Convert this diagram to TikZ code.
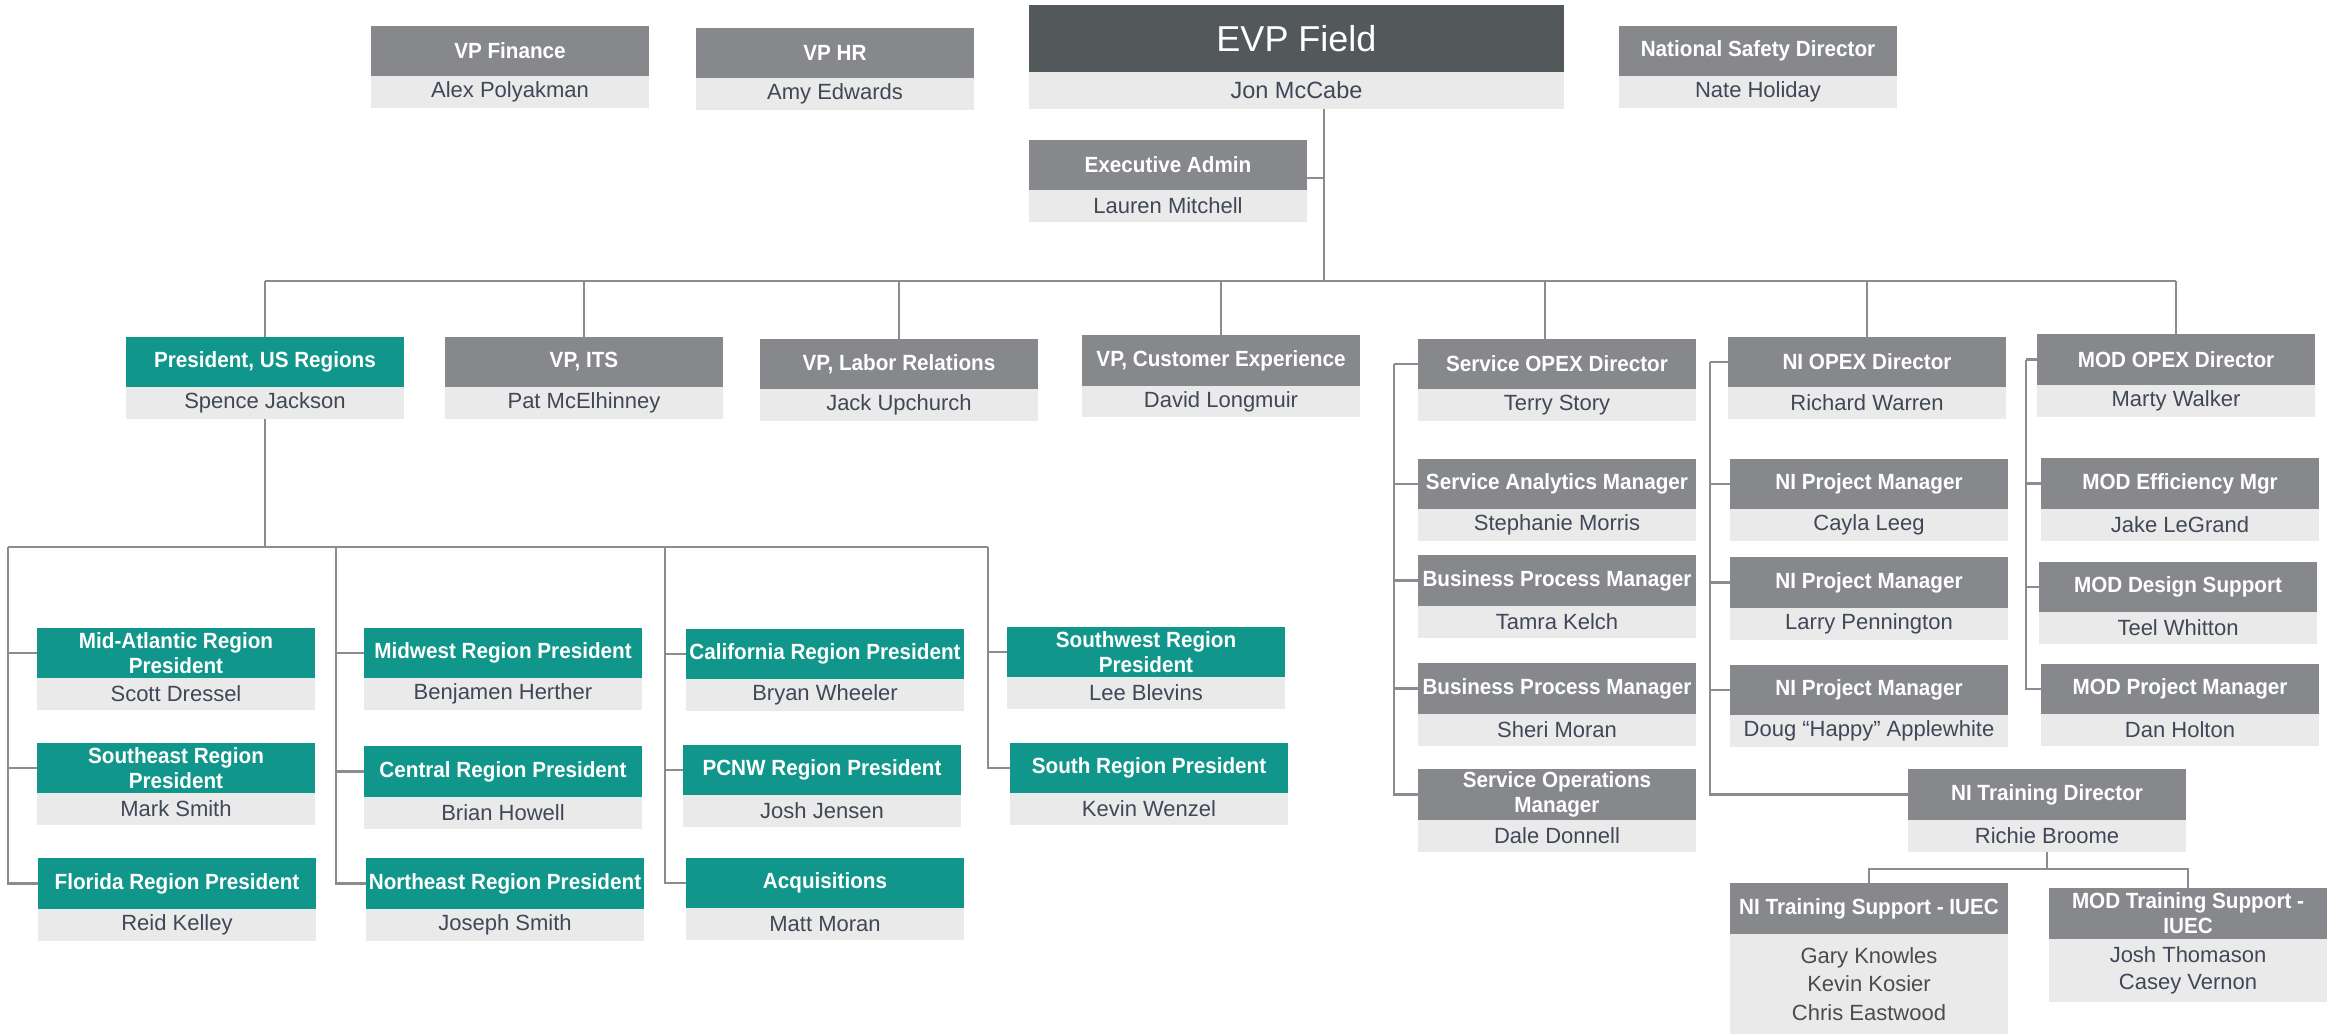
\documentclass[tikz,border=0pt]{standalone}
\usepackage{fontspec}
\setmainfont{Liberation Sans}
\newfontfamily\hdrfont{Liberation Sans}[FakeStretch=0.94]
\usetikzlibrary{calc,backgrounds}

\definecolor{hdrteal}{HTML}{10968A}
\definecolor{hdrgray}{HTML}{86888C}
\definecolor{hdrdark}{HTML}{53585B}
\definecolor{namebg}{HTML}{EAEAEA}
\definecolor{nametext}{HTML}{404757}
\definecolor{linegray}{HTML}{8A8C90}

\tikzset{
  hdr/.style={inner sep=0pt, outer sep=0pt, text=white, align=center,
    font=\hdrfont\bfseries\fontsize{22}{25}\selectfont},
  nmbox/.style={inner sep=0pt, outer sep=0pt, fill=namebg, text=nametext,
    align=center, font=\fontsize{22}{27}\selectfont},
  link/.style={draw=linegray, line width=2.2pt},
  tealhdr/.style={fill=hdrteal},
  grayhdr/.style={fill=hdrgray},
}

% #1 name, #2 left, #3 top, #4 width, #5 header height, #6 name height,
% #7 header style, #8 title, #9 person
\newcommand\orgbox[9]{%
  \node[hdr,#7,minimum width=#4pt,minimum height=#5pt,anchor=north west]
    (#1) at (#2,#3) {#8};
  \node[nmbox,minimum width=#4pt,minimum height=#6pt,anchor=north west]
    (#1n) at (#1.south west) {#9};
}

\begin{document}
\begin{tikzpicture}[x=1pt,y=-1pt]
\begin{scope}[on background layer]
  \fill[white] (0,0) rectangle (2336,1033);
\end{scope}
\useasboundingbox (0,0) rectangle (2336,1033);

% ---- top level ----
\orgbox{fin}{371}{26}{278}{50}{32}{grayhdr}{VP Finance}{Alex Polyakman}
\orgbox{hr}{696}{28}{278}{50}{32}{grayhdr}{VP HR}{Amy Edwards}
\node[hdr,fill=hdrdark,minimum width=535pt,minimum height=67pt,anchor=north west,
      font=\fontsize{36}{40}\selectfont] (evp) at (1029,5) {EVP Field};
\node[nmbox,minimum width=535pt,minimum height=37pt,anchor=north west,
      font=\fontsize{23.5}{27}\selectfont] (evpn) at (evp.south west) {Jon McCabe};
\orgbox{nsd}{1619}{26}{278}{50}{32}{grayhdr}{National Safety Director}{Nate Holiday}
\orgbox{ea}{1029}{140}{278}{50}{32}{grayhdr}{Executive Admin}{Lauren Mitchell}

% ---- direct reports ----
\orgbox{pus}{126}{337}{278}{50}{32}{tealhdr}{President, US Regions}{Spence Jackson}
\orgbox{its}{445}{337}{278}{50}{32}{grayhdr}{VP, ITS}{Pat McElhinney}
\orgbox{lab}{760}{339}{278}{50}{32}{grayhdr}{VP, Labor Relations}{Jack Upchurch}
\orgbox{cx}{1082}{335}{278}{51}{31}{grayhdr}{VP, Customer Experience}{David Longmuir}
\orgbox{sopex}{1418}{339}{278}{50}{32}{grayhdr}{Service OPEX Director}{Terry Story}
\orgbox{niopex}{1728}{337}{278}{50}{32}{grayhdr}{NI OPEX Director}{Richard Warren}
\orgbox{modopex}{2037}{334}{278}{51}{32}{grayhdr}{MOD OPEX Director}{Marty Walker}

% ---- service OPEX team ----
\orgbox{sam}{1418}{459}{278}{50}{32}{grayhdr}{Service Analytics Manager}{Stephanie Morris}
\orgbox{bpma}{1418}{555}{278}{51}{32}{grayhdr}{Business Process Manager}{Tamra Kelch}
\orgbox{bpmb}{1418}{663}{278}{51}{32}{grayhdr}{Business Process Manager}{Sheri Moran}
\orgbox{som}{1418}{769}{278}{51}{32}{grayhdr}{Service Operations\\Manager}{Dale Donnell}

% ---- NI OPEX team ----
\orgbox{nipma}{1730}{459}{278}{50}{32}{grayhdr}{NI Project Manager}{Cayla Leeg}
\orgbox{nipmb}{1730}{557}{278}{51}{32}{grayhdr}{NI Project Manager}{Larry Pennington}
\orgbox{nipmc}{1730}{665}{278}{50}{32}{grayhdr}{NI Project Manager}{Doug “Happy” Applewhite}
\orgbox{nitd}{1908}{769}{278}{51}{32}{grayhdr}{NI Training Director}{Richie Broome}

% ---- MOD OPEX team ----
\orgbox{modeff}{2041}{458}{278}{51}{32}{grayhdr}{MOD Efficiency Mgr}{Jake LeGrand}
\orgbox{modds}{2039}{562}{278}{50}{32}{grayhdr}{MOD Design Support}{Teel Whitton}
\orgbox{modpm}{2041}{664}{278}{50}{32}{grayhdr}{MOD Project Manager}{Dan Holton}

% ---- training support ----
\node[hdr,fill=hdrgray,minimum width=278pt,minimum height=51pt,anchor=north west]
  (nits) at (1730,883) {NI Training Support - IUEC};
\node[nmbox,minimum width=278pt,minimum height=100pt,anchor=north west,
      text=black!70,font=\fontsize{22}{28.7}\selectfont]
  (nitsn) at (nits.south west) {Gary Knowles\\Kevin Kosier\\Chris Eastwood};
\node[hdr,fill=hdrgray,minimum width=278pt,minimum height=51pt,anchor=north west]
  (mots) at (2049,888) {MOD Training Support -\\IUEC};
\node[nmbox,minimum width=278pt,minimum height=63pt,anchor=north west,
      font=\fontsize{22}{26.5}\selectfont]
  (motsn) at (mots.south west) {Josh Thomason\\Casey Vernon};

% ---- US regions ----
\orgbox{midatl}{37}{628}{278}{50}{32}{tealhdr}{Mid-Atlantic Region\\President}{Scott Dressel}
\orgbox{se}{37}{743}{278}{50}{32}{tealhdr}{Southeast Region\\President}{Mark Smith}
\orgbox{fl}{38}{858}{278}{51}{32}{tealhdr}{Florida Region President}{Reid Kelley}
\orgbox{mw}{364}{628}{278}{50}{32}{tealhdr}{Midwest Region President}{Benjamen Herther}
\orgbox{cen}{364}{746}{278}{51}{32}{tealhdr}{Central Region President}{Brian Howell}
\orgbox{ne}{366}{858}{278}{51}{32}{tealhdr}{Northeast Region President}{Joseph Smith}
\orgbox{ca}{686}{629}{278}{50}{32}{tealhdr}{California Region President}{Bryan Wheeler}
\orgbox{pcnw}{683}{745}{278}{50}{32}{tealhdr}{PCNW Region President}{Josh Jensen}
\orgbox{acq}{686}{858}{278}{50}{32}{tealhdr}{Acquisitions}{Matt Moran}
\orgbox{sw}{1007}{627}{278}{50}{32}{tealhdr}{Southwest Region\\President}{Lee Blevins}
\orgbox{so}{1010}{743}{278}{50}{32}{tealhdr}{South Region President}{Kevin Wenzel}

% ---- connectors ----
\begin{scope}[on background layer]
  % EVP to direct reports
  \coordinate (mainbus) at (1324,281);
  \coordinate (eajoin) at (1324,178);
  \draw[link] (evpn.south -| mainbus) -- (mainbus);
  \draw[link] (ea.east |- eajoin) -- (eajoin);
  \draw[link] (pus.north |- mainbus) -- (modopex.north |- mainbus);
  \foreach \n in {pus,its,lab,cx,niopex,modopex}
    \draw[link] (\n.north) -- (\n.north |- mainbus);
  \coordinate (sopexdrop) at (1545,281);
  \draw[link] (sopexdrop) -- (sopexdrop |- sopex.north);

  % President, US Regions to the regions
  \coordinate (rbus) at (265,547);
  \coordinate (rca) at (8,547);
  \coordinate (rcb) at (336,547);
  \coordinate (rcc) at (665,547);
  \coordinate (rcd) at (988,547);
  \draw[link] (pusn.south) -- (rbus);
  \draw[link] (rca) -- (rcd);
  \foreach \n in {midatl,se,fl} \draw[link] (rca) |- (\n.west);
  \foreach \n in {mw,cen,ne} \draw[link] (rcb) |- (\n.west);
  \foreach \n in {ca,pcnw,acq} \draw[link] (rcc) |- (\n.west);
  \foreach \n in {sw,so} \draw[link] (rcd) |- (\n.west);

  % OPEX teams
  \coordinate (svtop) at ($(sopex.west)+(-24,0)$);
  \draw[link] (sopex.west) -- (svtop);
  \foreach \n in {sam,bpma,bpmb,som} \draw[link] (svtop) |- (\n.west);
  \coordinate (nvtop) at ($(niopex.west)+(-18,0)$);
  \draw[link] (niopex.west) -- (nvtop);
  \foreach \n in {nipma,nipmb,nipmc,nitd} \draw[link] (nvtop) |- (\n.west);
  \coordinate (mvtop) at ($(modopex.west)+(-11,0)$);
  \draw[link] (modopex.west) -- (mvtop);
  \foreach \n in {modeff,modds,modpm} \draw[link] (mvtop) |- (\n.west);

  % NI Training Director to training support
  \coordinate (tbus) at ($(nitdn.south)+(0,17)$);
  \draw[link] (nitdn.south) -- (tbus) -| (nits.north);
  \draw[link] (tbus) -| (mots.north);
\end{scope}
\end{tikzpicture}
\end{document}
